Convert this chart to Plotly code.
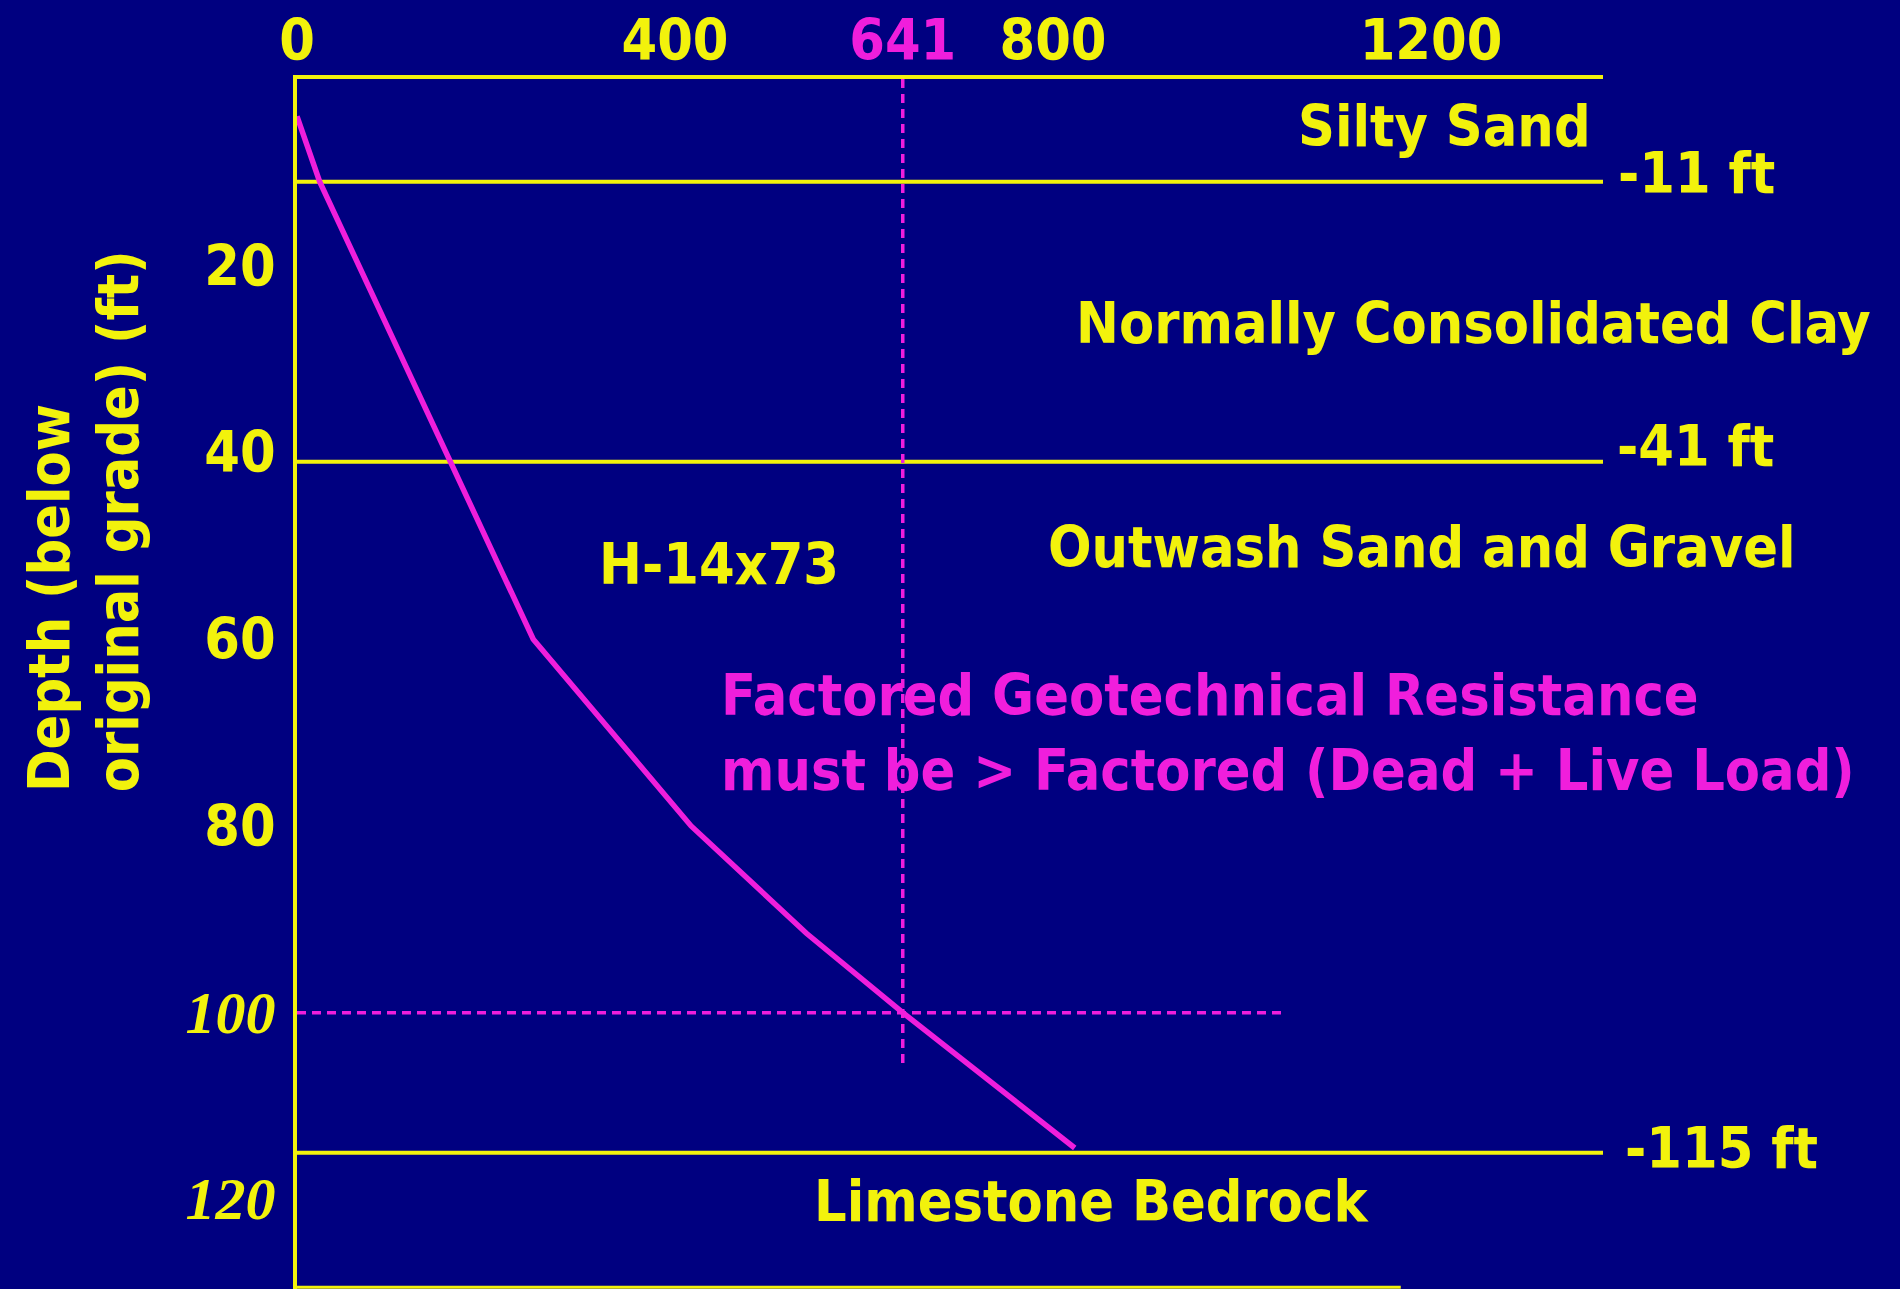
import plotly.graph_objects as go

# ---------------- data ----------------
depth_ft = [4, 11, 60, 80, 91.5, 100, 114.5]
resistance = [0, 24, 250, 417, 539, 641, 823]

layer_depths = [11, 41, 115]
layer_labels = ["-11 ft", "-41 ft", "-115 ft"]
soil_names = ["Silty Sand", "Normally Consolidated Clay",
              "Outwash Sand and Gravel", "Limestone Bedrock"]

x_ticks = [0, 400, 641, 800, 1200]
y_ticks = [20, 40, 60, 80, 100, 120]

required_load = 641        # factored (dead + live) load
required_depth = 100       # depth where resistance reaches it
pile_name = "H-14x73"

X_MAX = 1382
Y_MAX = 129.6
REF_LINE_END = 1044        # extent of dashed depth marker
REF_VLINE_END = 106        # extent of dashed load marker
BASE_END = 1168

# ---------------- style ----------------
BG = "#000080"
YEL = "#F2F20C"
MAG = "#F01EDC"
FONT = "DejaVu Sans Condensed, DejaVu Sans"
FS = 57

fig = go.Figure()

# soil layer boundaries
for d in layer_depths:
    fig.add_trace(go.Scatter(x=[0, X_MAX], y=[d, d], mode="lines",
                             line=dict(color=YEL, width=4), hoverinfo="skip",
                             showlegend=False))
# base line
fig.add_trace(go.Scatter(x=[0, BASE_END], y=[Y_MAX - 0.2, Y_MAX - 0.2], mode="lines",
                         line=dict(color=YEL, width=3), hoverinfo="skip",
                         showlegend=False))

# dashed reference lines
fig.add_trace(go.Scatter(x=[0, REF_LINE_END], y=[required_depth, required_depth],
                         mode="lines", line=dict(color=MAG, width=3.5, dash="9px,6px"),
                         hoverinfo="skip", showlegend=False))
fig.add_trace(go.Scatter(x=[required_load, required_load], y=[0, REF_VLINE_END],
                         mode="lines", line=dict(color=MAG, width=3.5, dash="9px,6px"),
                         hoverinfo="skip", showlegend=False))

# resistance curve
fig.add_trace(go.Scatter(x=resistance, y=depth_ft, mode="lines",
                         line=dict(color=MAG, width=5.5), showlegend=False))

tickfont = dict(family=FONT, size=FS, color=YEL, weight="bold")
serif = ('<span style="font-family:Liberation Serif;font-style:italic;'
         'font-weight:bold;font-size:60px">{}</span>')
y_text = [str(v) if v < 100 else serif.format(v) for v in y_ticks]
x_text = [f'<span style="color:{MAG}">{v}</span>' if v == required_load else str(v)
          for v in x_ticks]

fig.update_layout(
    width=1900, height=1289,
    paper_bgcolor=BG, plot_bgcolor=BG,
    margin=dict(l=297, r=297, t=79, b=0, autoexpand=False),
    showlegend=False,
    xaxis=dict(side="top", range=[0, X_MAX], showgrid=False, zeroline=False,
               showline=True, linecolor=YEL, linewidth=4, ticks="",
               tickvals=x_ticks, ticktext=x_text, tickfont=tickfont,
               ticklabelstandoff=-8, automargin=False),
    yaxis=dict(range=[Y_MAX, 0], showgrid=False, zeroline=False,
               showline=True, linecolor=YEL, linewidth=4, ticks="",
               tickvals=y_ticks, ticktext=y_text, tickfont=tickfont,
               ticklabelstandoff=6, automargin=False),
)


def ann(text, x, y, xanchor="center", color=YEL, xref="x"):
    fig.add_annotation(text=text, x=x, y=y, xref=xref, yref="y",
                       xanchor=xanchor, yanchor="middle", showarrow=False,
                       font=dict(family=FONT, size=FS, color=color, weight="bold"))


ann(soil_names[0], 1371, 5.0, xanchor="right")
ann(soil_names[1], 1245, 26.1)
ann(soil_names[2], 1190, 50.1)
ann(soil_names[3], 841, 120.2)
ann(layer_labels[0], 1.010, 10.1, xanchor="left", xref="paper")
ann(layer_labels[1], 1.009, 39.3, xanchor="left", xref="paper")
ann(layer_labels[2], 1.015, 114.5, xanchor="left", xref="paper")
ann(pile_name, 446.6, 52.0)
ann("Factored Geotechnical Resistance", 446.6, 66.0, xanchor="left", color=MAG)
ann("must be &gt; Factored (Dead + Live Load)", 446.6, 74.0, xanchor="left", color=MAG)

# y-axis title, two left-aligned rotated lines
for line, xp in [("Depth (below", -0.190), ("original grade) (ft)", -0.137)]:
    fig.add_annotation(text=line, textangle=-90,
                       x=xp, y=0.409, xref="paper", yref="paper",
                       xanchor="center", yanchor="bottom", showarrow=False,
                       font=dict(family=FONT, size=FS, color=YEL, weight="bold"))

fig.write_html("out.html",
               config={"displayModeBar": False},
               post_script="document.body.style.margin='0';"
                           "document.body.style.background='#000080';")
